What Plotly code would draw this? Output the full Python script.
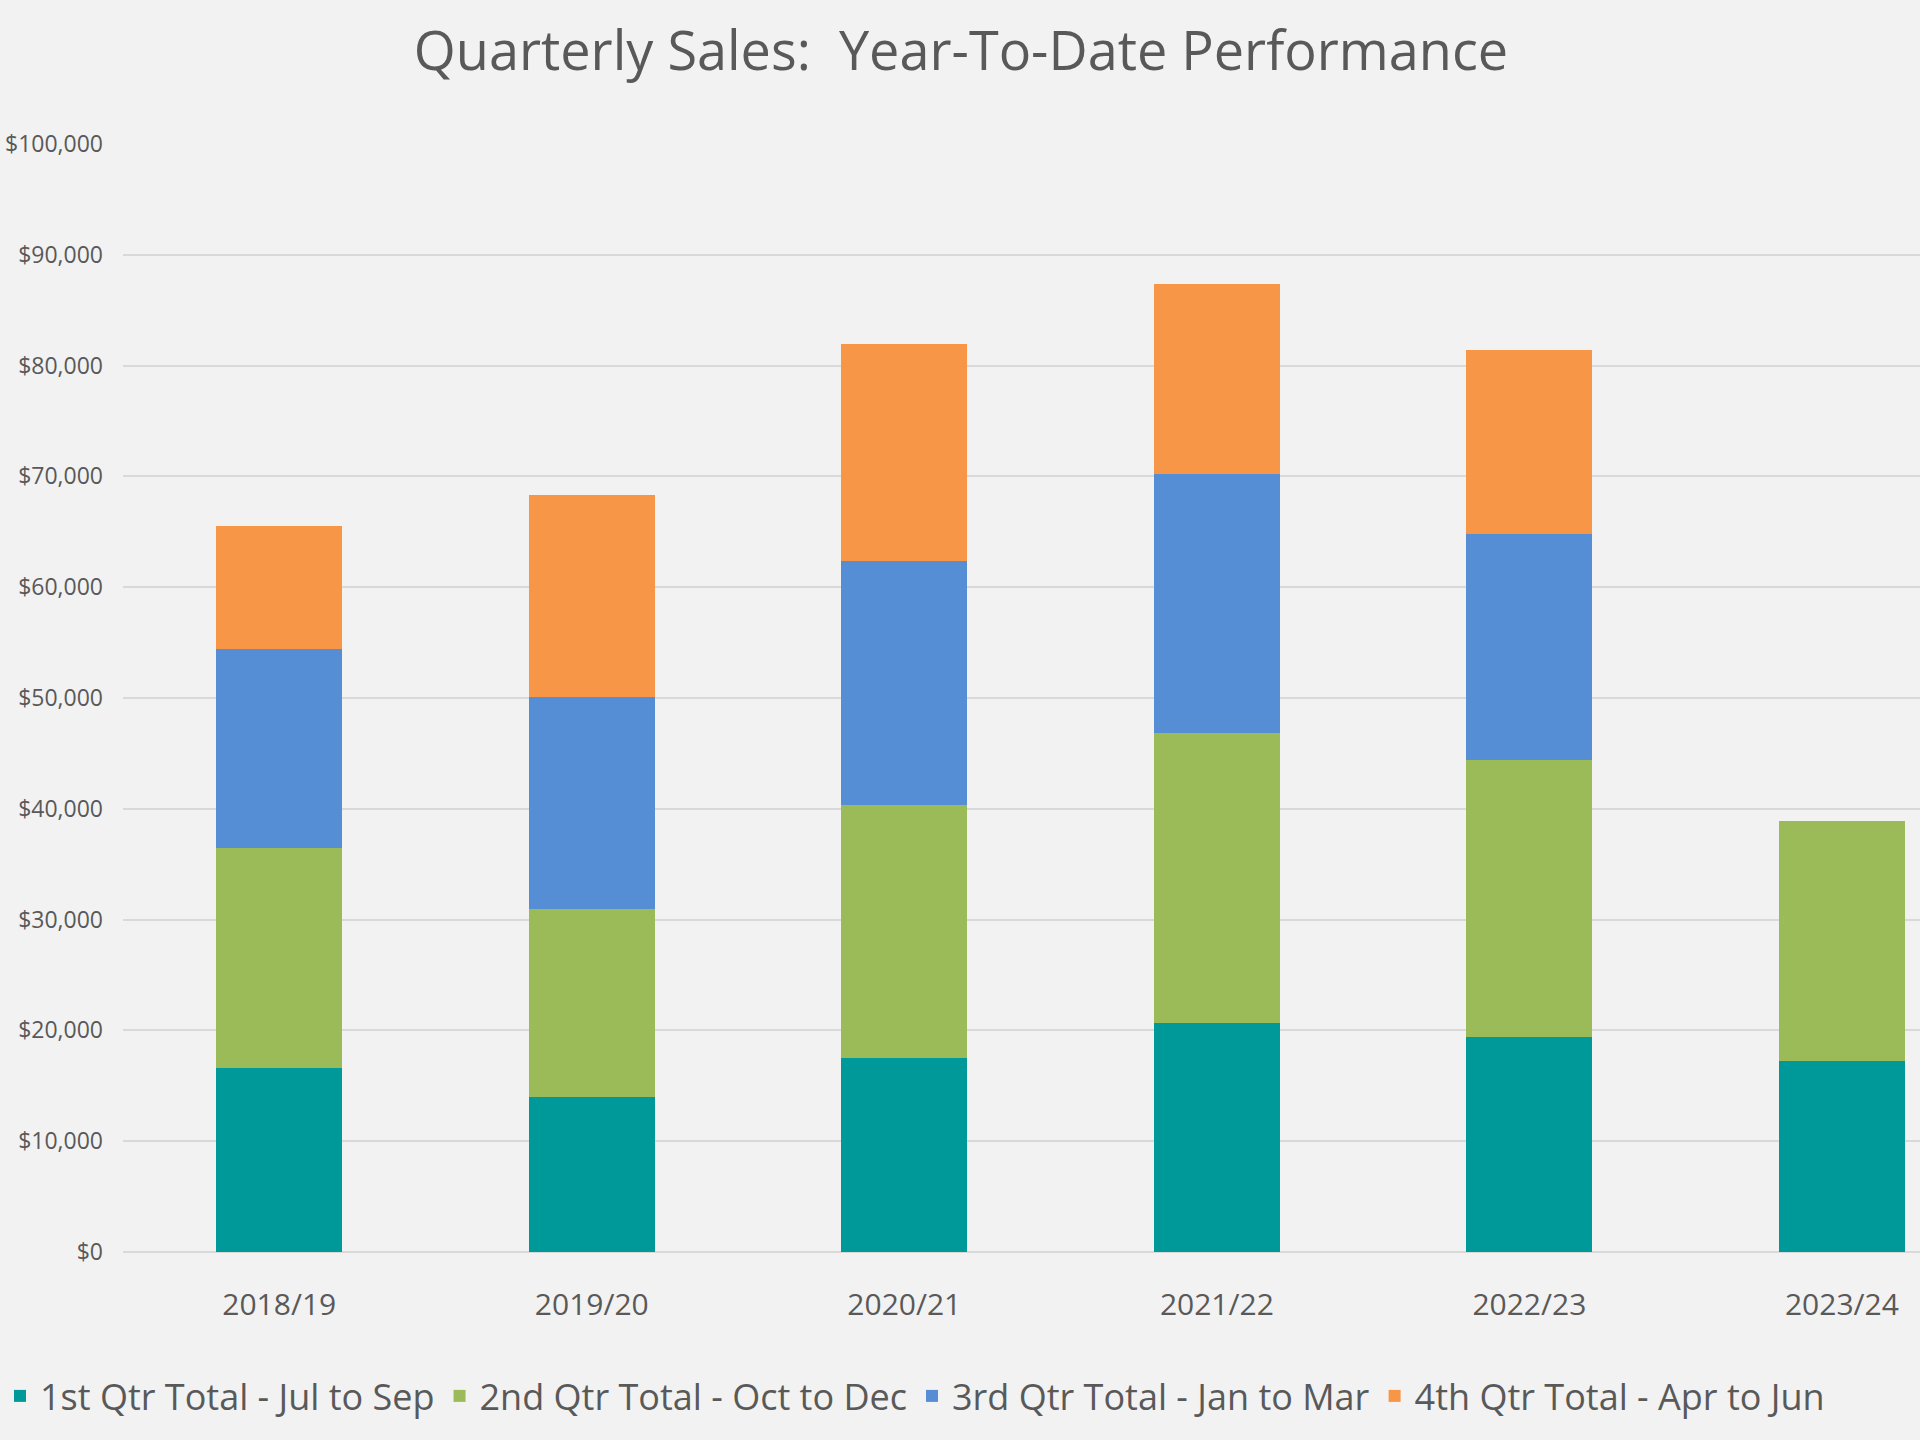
import plotly.graph_objects as go

years = ["2018/19", "2019/20", "2020/21", "2021/22", "2022/23", "2023/24"]
q1 = [16600, 13950, 17500, 20700, 19400, 17240]
q2 = [19900, 17050, 22800, 26150, 25000, 21660]
q3 = [17900, 19050, 22050, 23350, 20400, None]
q4 = [11100, 18300, 19600, 17150, 16600, None]

series_names = [
    "1st Qtr Total - Jul to Sep",
    "2nd Qtr Total - Oct to Dec",
    "3rd Qtr Total - Jan to Mar",
    "4th Qtr Total - Apr to Jun",
]
colors = ["#009999", "#9BBB59", "#558ED5", "#F79646"]
tick_vals = [0, 10000, 20000, 30000, 40000, 50000, 60000, 70000, 80000, 90000, 100000]
tick_text = ["$0"] + [f"${v:,}" for v in tick_vals[1:]]

FONT = "Open Sans"
TXT = "#595959"

fig = go.Figure()
for name, vals, col in zip(series_names, [q1, q2, q3, q4], colors):
    fig.add_trace(go.Bar(x=years, y=vals, name=name, marker=dict(color=col, line=dict(width=0))))

W, H = 1920, 1440
left, right, top, bottom = 123, 0, 144, 188

fig.update_layout(
    width=W, height=H,
    barmode="stack",
    bargap=0.597,
    paper_bgcolor="#F2F2F2",
    plot_bgcolor="#F2F2F2",
    margin=dict(l=left, r=right, t=top, b=bottom, autoexpand=False),
    font=dict(family=FONT, color=TXT),
    title=dict(
        text="Quarterly Sales:  Year-To-Date Performance",
        x=(961 - left) / (W - left), xref="paper", xanchor="center",
        y=1 - 51 / H, yref="container", yanchor="middle",
        font=dict(size=54, color=TXT, family=FONT),
    ),
    xaxis=dict(
        range=[-0.5, 5.25],
        tickfont=dict(size=30, color=TXT),
        showgrid=False,
        showline=False,
        ticks="",
        ticklabelstandoff=32,
        automargin=False,
    ),
    yaxis=dict(
        range=[0, 100000],
        tickvals=tick_vals,
        ticktext=tick_text,
        tickfont=dict(size=23, color=TXT),
        showgrid=True,
        gridcolor="#D9D9D9",
        gridwidth=2,
        zeroline=True,
        zerolinecolor="#D9D9D9",
        zerolinewidth=2,
        showline=False,
        ticks="",
        ticklabelstandoff=19,
        automargin=False,
    ),
    legend=dict(
        orientation="h",
        x=(0 - left) / (W - left), xanchor="left",
        y=(1252 - 1396) / (1252 - 144), yanchor="middle",
        font=dict(size=36, color=TXT, family=FONT),
        bgcolor="rgba(0,0,0,0)",
        itemwidth=30,
        traceorder="normal",
    ),
)

fig.write_html("out.html")
